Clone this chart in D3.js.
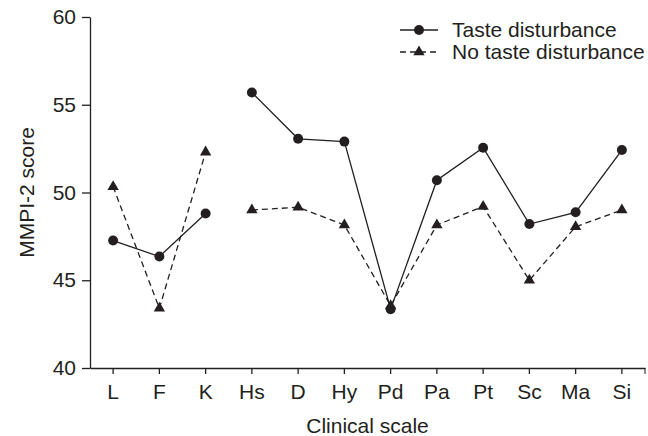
<!DOCTYPE html>
<html>
<head>
<meta charset="utf-8">
<script src="https://cdn.jsdelivr.net/npm/d3@7"></script>
<style>
  body { margin: 0; background: #fff; }
  text { font-family: "Liberation Sans", Arial, sans-serif; fill: #231f20; }
</style>
</head>
<body>
<div id="chart"></div>
<script>
const scales = ["L", "F", "K", "Hs", "D", "Hy", "Pd", "Pa", "Pt", "Sc", "Ma", "Si"];
const taste = [47.26, 46.35, 48.8, 55.7, 53.06, 52.9, 43.35, 50.7, 52.55, 48.2, 48.87, 52.42];
const noTaste = [50.33, 43.4, 52.3, 49.0, 49.16, 48.15, 43.55, 48.15, 49.2, 45.0, 48.05, 49.0];
const yTicks = [40, 45, 50, 55, 60];
// the lines break between the validity scales (L, F, K) and the clinical ones
const groups = [["L", "F", "K"], ["Hs", "D", "Hy", "Pd", "Pa", "Pt", "Sc", "Ma", "Si"]];

const width = 648, height = 436;
const margin = { top: 17, right: 3, bottom: 68, left: 90 };
const ink = "#231f20";
const fontSize = "21px";

const svg = d3.select("#chart")
  .append("svg")
  .attr("width", width)
  .attr("height", height);

const x = d3.scaleBand()
  .domain(scales)
  .range([margin.left, width - margin.right]);

const y = d3.scaleLinear()
  .domain([40, 60])
  .range([height - margin.bottom, margin.top]);

const cx = (d) => x(d) + x.bandwidth() / 2;

// y axis
const yAxis = svg.append("g")
  .attr("transform", `translate(${margin.left},0)`)
  .call(d3.axisLeft(y).tickValues(yTicks).tickSize(8).tickSizeOuter(0).tickPadding(6));
yAxis.selectAll("text").style("font-size", fontSize);

// x axis
const xAxis = svg.append("g")
  .attr("transform", `translate(0,${height - margin.bottom})`)
  .call(d3.axisBottom(x).tickSize(6).tickSizeOuter(0).tickPadding(10));
xAxis.selectAll("text").style("font-size", fontSize);
xAxis.append("line")
  .attr("x1", width - margin.right)
  .attr("x2", width - margin.right)
  .attr("y1", 0)
  .attr("y2", 6)
  .attr("stroke", ink);

svg.selectAll(".domain, .tick line").attr("stroke", ink).attr("stroke-width", 1.3);

svg.append("text")
  .attr("x", (margin.left + width - margin.right) / 2)
  .attr("y", 433)
  .attr("text-anchor", "middle")
  .style("font-size", fontSize)
  .text("Clinical scale");

svg.append("text")
  .attr("transform", `translate(34,${(margin.top + height - margin.bottom) / 2}) rotate(-90)`)
  .attr("text-anchor", "middle")
  .style("font-size", fontSize)
  .text("MMPI-2 score");

const series = [
  { name: "Taste disturbance", values: taste, dash: null, marker: d3.symbolCircle, size: 78 },
  { name: "No taste disturbance", values: noTaste, dash: "6,4", marker: d3.symbolTriangle, size: 56 }
];

const line = d3.line()
  .x((d) => cx(d.k))
  .y((d) => y(d.v));

series.forEach((s) => {
  const pts = scales.map((k, i) => ({ k: k, v: s.values[i] }));
  groups.forEach((grp) => {
    svg.append("path")
      .datum(pts.filter((p) => grp.includes(p.k)))
      .attr("d", line)
      .attr("fill", "none")
      .attr("stroke", ink)
      .attr("stroke-width", 1.3)
      .attr("stroke-dasharray", s.dash);
  });
  svg.selectAll(null)
    .data(pts)
    .enter()
    .append("path")
    .attr("d", d3.symbol().type(s.marker).size(s.size))
    .attr("transform", (d) => `translate(${cx(d.k)},${y(d.v)})`)
    .attr("fill", ink);
});

// legend
const legend = svg.append("g").attr("transform", "translate(400,30)");
series.forEach((s, i) => {
  const row = legend.append("g").attr("transform", `translate(0,${i * 22})`);
  row.append("line")
    .attr("x1", 0).attr("x2", 38)
    .attr("stroke", ink)
    .attr("stroke-width", 1.3)
    .attr("stroke-dasharray", s.dash);
  row.append("path")
    .attr("d", d3.symbol().type(s.marker).size(s.size))
    .attr("transform", "translate(19,0)")
    .attr("fill", ink);
  row.append("text")
    .attr("x", 52)
    .attr("dy", "0.35em")
    .style("font-size", fontSize)
    .text(s.name);
});
</script>
</body>
</html>
